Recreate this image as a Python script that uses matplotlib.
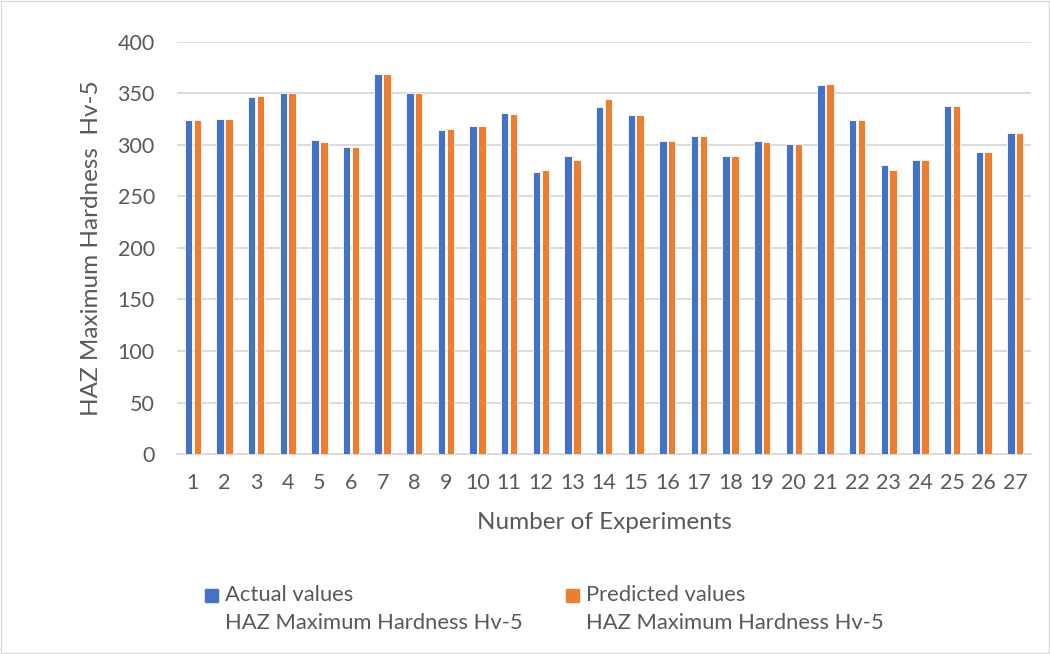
import matplotlib
matplotlib.use("Agg")
import matplotlib.pyplot as plt
from matplotlib.patches import Rectangle
import numpy as np

experiments = list(range(1, 28))
actual = [324, 325, 347, 350, 305, 298, 369, 350, 315, 318,
          331, 274, 289, 337, 329, 304, 309, 289, 304, 301,
          358, 324, 281, 285, 338, 293, 312]
predicted = [324, 325.5, 348, 350, 303, 298, 369, 350, 316, 318,
             330, 276, 285, 345, 329, 304, 309, 289, 303, 301,
             359, 324, 276, 285, 338, 293, 312]
y_ticks = [0, 50, 100, 150, 200, 250, 300, 350, 400]

BLUE = "#4472C4"
ORANGE = "#ED7D31"
TEXT = "#595959"
GRID = "#D9D9D9"

plt.rcParams["font.family"] = ["Lato", "DejaVu Sans"]

fig = plt.figure(figsize=(10.5, 6.54), dpi=100)
ax = fig.add_axes([0.1686, 0.3058, 0.8134, 0.63])

x = np.arange(len(experiments))
w = 0.235
off = 0.14
ax.bar(x - off, actual, width=w, color=BLUE, edgecolor="white", linewidth=0.6, zorder=3)
ax.bar(x + off, predicted, width=w, color=ORANGE, edgecolor="white", linewidth=0.6, zorder=3)

ax.set_xlim(-0.5, len(experiments) - 0.5)
ax.set_ylim(0, 400)
ax.set_yticks(y_ticks)
ax.set_xticks(x)
ax.set_xticklabels([str(e) for e in experiments])
ax.yaxis.grid(True, color=GRID, linewidth=1.3, zorder=0)
ax.set_axisbelow(True)
for s in ["top", "right", "left"]:
    ax.spines[s].set_visible(False)
ax.spines["bottom"].set_color(GRID)
ax.spines["bottom"].set_linewidth(1.3)
ax.tick_params(axis="both", length=0, labelsize=15.5, colors=TEXT)
ax.tick_params(axis="x", pad=14)
ax.tick_params(axis="y", pad=16)

ax.set_xlabel("Number of Experiments", fontsize=17.5, color=TEXT, labelpad=13)
ax.set_ylabel("HAZ Maximum Hardness  Hv-5", fontsize=17.5, color=TEXT, labelpad=11)

# legend entries drawn in figure coordinates
def legend_entry(xs, color, label):
    fig.add_artist(Rectangle((xs / 1050, 1 - 602 / 654), 13 / 1050, 13 / 654,
                             transform=fig.transFigure, color=color))
    fig.text((xs + 20) / 1050, 1 - 595 / 654, label[0], fontsize=15.8,
             color=TEXT, va="center", ha="left")
    fig.text((xs + 20) / 1050, 1 - 623 / 654, label[1], fontsize=15.8,
             color=TEXT, va="center", ha="left")

legend_entry(205, BLUE, ("Actual values", "HAZ Maximum Hardness Hv-5"))
legend_entry(566, ORANGE, ("Predicted values", "HAZ Maximum Hardness Hv-5"))

# chart area border
fig.add_artist(Rectangle((0.001, 0.001), 0.998, 0.998, transform=fig.transFigure,
                         fill=False, edgecolor=GRID, linewidth=1))

fig.savefig("out.png", dpi=100, facecolor="white")
